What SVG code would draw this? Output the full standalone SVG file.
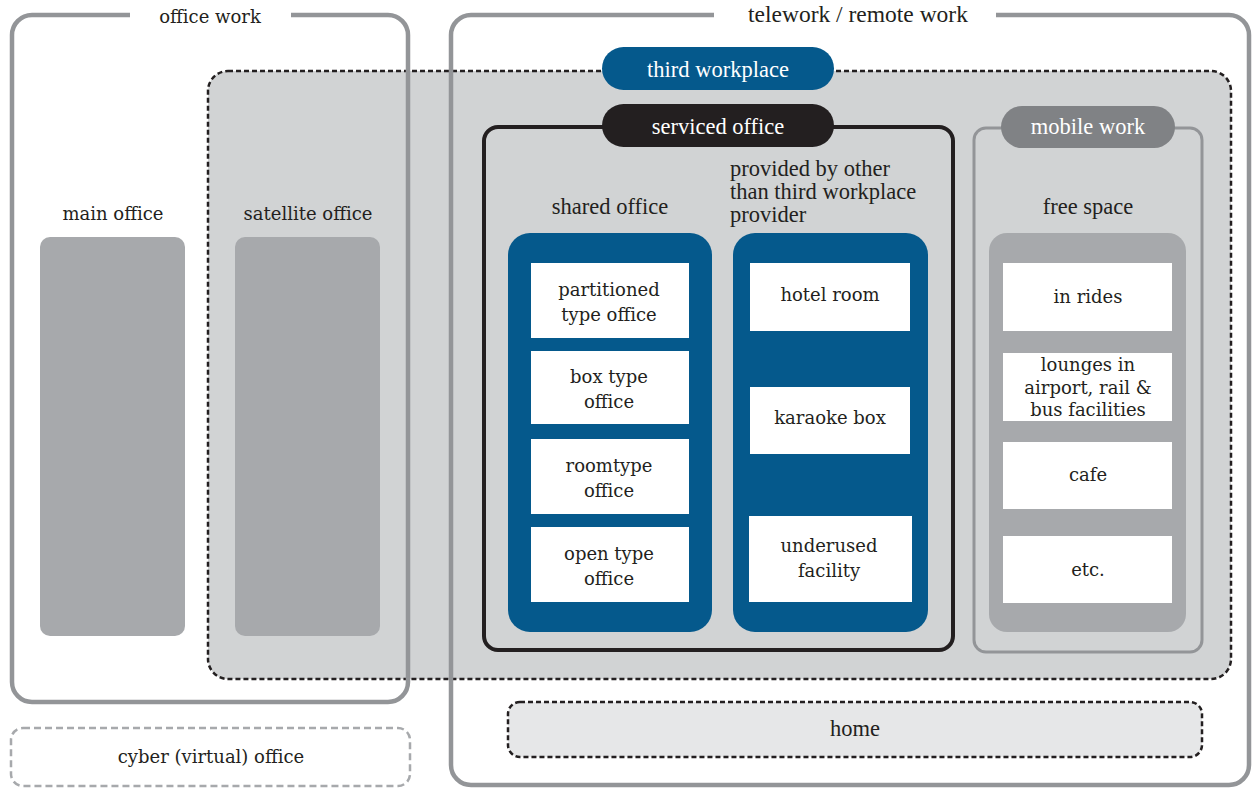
<svg xmlns="http://www.w3.org/2000/svg" width="1253" height="789" viewBox="0 0 1253 789">
<style>
.frame{fill:none;stroke:#939598;stroke-width:4.5}
.body{font-family:"DejaVu Serif",serif;font-size:18px;fill:#231f20;text-anchor:middle}
.head{font-family:"Liberation Serif",serif;font-size:22.5px;fill:#231f20;text-anchor:middle}
.pilltxt{font-family:"Liberation Serif",serif;font-size:22.5px;fill:#ffffff;text-anchor:middle}
.wbox{fill:#ffffff}
.blue{fill:#05598c}
.grey{fill:#a7a9ac}
</style>
<rect width="1253" height="789" fill="#ffffff"/>

<g id="third-workplace">
  <rect x="208" y="71" width="1023" height="608" rx="20" fill="#d1d3d4" stroke="#231f20" stroke-width="2.5" stroke-dasharray="5 3"/>
  <rect x="602" y="47" width="232" height="43" rx="21.5" class="blue"/>
  <text x="718" y="77" class="pilltxt">third workplace</text>
</g>

<g id="office-work">
  <path class="frame" d="M130,15 H32 A20,20 0 0 0 12,35 V682 A20,20 0 0 0 32,702 H388 A20,20 0 0 0 408,682 V35 A20,20 0 0 0 388,15 H291"/>
  <text x="210" y="23" class="body">office work</text>
</g>

<g id="telework">
  <path class="frame" d="M714,15 H471 A20,20 0 0 0 451,35 V765 A20,20 0 0 0 471,785 H1229 A20,20 0 0 0 1249,765 V35 A20,20 0 0 0 1229,15 H996"/>
  <text x="858" y="22" class="head" style="font-size:23.5px">telework / remote work</text>
</g>

<g id="main-office">
  <text x="113" y="220" class="body">main office</text>
  <rect x="40" y="237" width="145" height="399" rx="10" class="grey"/>
</g>

<g id="satellite-office">
  <text x="308" y="220" class="body">satellite office</text>
  <rect x="235" y="237" width="145" height="399" rx="10" class="grey"/>
</g>

<g id="serviced-office">
  <rect x="484" y="127" width="469" height="523" rx="14" fill="none" stroke="#231f20" stroke-width="4"/>
  <rect x="602" y="104" width="232" height="43" rx="21.5" fill="#231f20"/>
  <text x="718" y="134" class="pilltxt">serviced office</text>
</g>

<g id="shared-office">
  <text x="610" y="214" class="head">shared office</text>
  <rect x="508" y="233" width="204" height="399" rx="22" class="blue"/>
  <rect x="531" y="263" width="158" height="75" class="wbox"/>
  <text x="609" y="296" class="body">partitioned</text>
  <text x="609" y="321" class="body">type office</text>
  <rect x="531" y="351" width="158" height="73" class="wbox"/>
  <text x="609" y="383" class="body">box type</text>
  <text x="609" y="408" class="body">office</text>
  <rect x="531" y="439" width="158" height="75" class="wbox"/>
  <text x="609" y="472" class="body">roomtype</text>
  <text x="609" y="497" class="body">office</text>
  <rect x="531" y="527" width="158" height="75" class="wbox"/>
  <text x="609" y="560" class="body">open type</text>
  <text x="609" y="585" class="body">office</text>
</g>

<g id="other-provider">
  <text x="730" y="176" class="head" style="text-anchor:start">provided by other</text>
  <text x="730" y="199" class="head" style="text-anchor:start">than third workplace</text>
  <text x="730" y="222" class="head" style="text-anchor:start">provider</text>
  <rect x="733" y="233" width="195" height="399" rx="22" class="blue"/>
  <rect x="750" y="263" width="160" height="68" class="wbox"/>
  <text x="830" y="301" class="body">hotel room</text>
  <rect x="750" y="387" width="160" height="67" class="wbox"/>
  <text x="830" y="424" class="body">karaoke box</text>
  <rect x="749" y="516" width="163" height="86" class="wbox"/>
  <text x="829" y="552" class="body">underused</text>
  <text x="829" y="577" class="body">facility</text>
</g>

<g id="mobile-work">
  <rect x="974" y="128" width="228" height="524" rx="12" fill="none" stroke="#939598" stroke-width="3"/>
  <rect x="1001" y="106" width="174" height="42" rx="21" fill="#808285"/>
  <text x="1088" y="134" class="pilltxt">mobile work</text>
  <text x="1088" y="214" class="head">free space</text>
  <rect x="989" y="233" width="197" height="399" rx="18" class="grey"/>
  <rect x="1003" y="263" width="169" height="68" class="wbox"/>
  <text x="1088" y="303" class="body">in rides</text>
  <rect x="1003" y="353" width="169" height="68" class="wbox"/>
  <text x="1088" y="371" class="body">lounges in</text>
  <text x="1088" y="394" class="body">airport, rail &amp;</text>
  <text x="1088" y="416" class="body">bus facilities</text>
  <rect x="1003" y="442" width="169" height="67" class="wbox"/>
  <text x="1088" y="481" class="body">cafe</text>
  <rect x="1003" y="536" width="169" height="67" class="wbox"/>
  <text x="1088" y="576" class="body">etc.</text>
</g>

<g id="home">
  <rect x="508" y="702" width="694" height="55" rx="12" fill="#e6e7e8" stroke="#231f20" stroke-width="2.5" stroke-dasharray="5 3"/>
  <text x="855" y="736" class="head">home</text>
</g>

<g id="cyber-office">
  <rect x="11" y="728" width="399" height="58" rx="12" fill="none" stroke="#a7a9ac" stroke-width="2.5" stroke-dasharray="7 4"/>
  <text x="211" y="763" class="body">cyber (virtual) office</text>
</g>

<g id="connectors"></g>
</svg>
